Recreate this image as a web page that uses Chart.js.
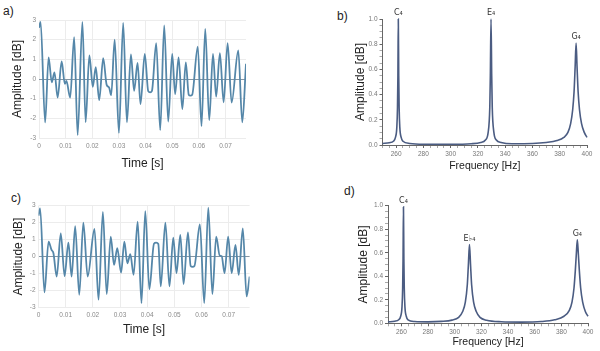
<!DOCTYPE html>
<html>
<head>
<meta charset="utf-8">
<script src="https://cdn.jsdelivr.net/npm/chart.js@4.4.0/dist/chart.umd.min.js"></script>
<style>
  html, body { margin: 0; padding: 0; background: #fff; }
  body { width: 600px; height: 351px; position: relative; overflow: hidden; font-family: "Liberation Sans", Arial, sans-serif; }
  canvas { position: absolute; }
  .tag { position: absolute; font-size: 12px; color: #222; line-height: 14px; }
</style>
</head>
<body>
<div class="tag" style="left:3px;top:4px">a)</div>
<div class="tag" style="left:337px;top:9px">b)</div>
<div class="tag" style="left:11px;top:191px">c)</div>
<div class="tag" style="left:344px;top:184px">d)</div>
<canvas id="chartA" width="260" height="175" style="left:0;top:0"></canvas>
<canvas id="chartB" width="300" height="175" style="left:300px;top:0"></canvas>
<canvas id="chartC" width="260" height="176" style="left:0;top:175px"></canvas>
<canvas id="chartD" width="300" height="176" style="left:300px;top:175px"></canvas>
<script>
// tick labels
const timeTicks = [0, 0.01, 0.02, 0.03, 0.04, 0.05, 0.06, 0.07];
const ampTicks = [-3, -2, -1, 0, 1, 2, 3];
const freqTicks = [260, 280, 300, 320, 340, 360, 380, 400];
const specTicks = [0, 0.2, 0.4, 0.6, 0.8, 1.0];

// a) C major chord, time domain (extrema read off the plot)
const timeA = [0, 0.0006, 0.0023, 0.0036, 0.0048, 0.0058, 0.0070, 0.0085, 0.0097, 0.0103,
  0.0117, 0.0132, 0.0145, 0.0163, 0.0175, 0.0189, 0.0202, 0.0213, 0.0226, 0.0241,
  0.0254, 0.0263, 0.0271, 0.0284, 0.0300, 0.0316, 0.0330, 0.0345, 0.0357, 0.0370,
  0.0381, 0.0397, 0.0410, 0.0417, 0.0424, 0.0440, 0.0455, 0.0470, 0.0485, 0.0500,
  0.0511, 0.0524, 0.0538, 0.0551, 0.0562, 0.0568, 0.0575, 0.0596, 0.0610, 0.0624,
  0.0639, 0.0653, 0.0665, 0.0679, 0.0693, 0.0708, 0.0723, 0.0748, 0.0763, 0.0777];
const ampA = [2.6, 2.9, -2.21, 1.1, -0.17, 0.34, -0.94, 0.89, -0.25, -0.1,
  -0.95, 2.13, -2.85, 2.9, -2.2, 1.2, -0.4, 0.6, -1.07, 1.06,
  -0.3, -0.43, -0.82, 2.0, -2.74, 2.85, -2.2, 1.25, -0.6, 0.82,
  -1.28, 1.28, -0.62, -0.68, -0.6, 1.82, -2.6, 2.72, -2.16, 1.28,
  -0.77, 1.1, -1.53, 0.85, -0.8, -0.85, -0.8, 1.65, -2.4, 2.55,
  -2.1, 1.28, -0.9, 1.31, -1.19, 1.82, -1.2, 1.45, -2.2, 0.77];

// c) C minor chord, time domain
const timeC = [0, 0.0006, 0.0022, 0.0037, 0.0048, 0.0055, 0.0067, 0.0082, 0.0096, 0.0110,
  0.0122, 0.0135, 0.0150, 0.0165, 0.0181, 0.0206, 0.0221, 0.0237, 0.0251, 0.0266,
  0.0278, 0.0290, 0.0304, 0.0316, 0.0327, 0.0338, 0.0350, 0.0365, 0.0379, 0.0393,
  0.0408, 0.0425, 0.0433, 0.0441, 0.0450, 0.0467, 0.0482, 0.0496, 0.0508, 0.0522,
  0.0534, 0.0550, 0.0560, 0.0567, 0.0574, 0.0594, 0.0610, 0.0625, 0.0640, 0.0654,
  0.0667, 0.0674, 0.0685, 0.0698, 0.0711, 0.0725, 0.0737, 0.0752, 0.0766, 0.0777];
const ampC = [2.4, 2.83, -2.1, 0.88, 0.39, 0.2, -1.17, 1.36, -1.15, 0.82,
  -1.17, 1.79, -2.24, 1.99, -1.17, 1.62, -2.53, 2.63, -2.2, 1.17,
  -0.49, 0.49, -0.94, 0.88, -0.39, 0.14, -1.07, 2.05, -2.73, 2.67,
  -1.91, 0.76, 0.82, 0.74, -1.75, 2.0, -1.75, 1.11, -0.97, 1.27,
  -1.62, 1.42, -0.55, -0.6, -0.55, 1.89, -2.73, 2.87, -2.2, 1.17,
  0.06, 0.03, -0.97, 1.17, -0.97, 0.68, -1.07, 1.66, -2.34, -1.17];

// b) spectrum of the major chord
const freqB = [250, 255, 258, 259.5, 260.5, 261, 261.3, 261.6, 261.9, 262.2,
  262.7, 263.7, 265, 270, 280, 300, 315, 322, 325.5, 327.5,
  328.7, 329.1, 329.6, 330.1, 330.5, 331.7, 333.5, 337, 345, 360,
  370, 378, 383, 386, 388, 389.5, 390.5, 391.3, 392, 392.7,
  393.5, 394.5, 396, 398, 400];
const specB = [0.012, 0.018, 0.03, 0.06, 0.14, 0.3, 0.55, 1.0, 0.55, 0.3,
  0.14, 0.06, 0.03, 0.012, 0.006, 0.006, 0.01, 0.02, 0.04, 0.1,
  0.3, 0.55, 1.0, 0.55, 0.3, 0.1, 0.04, 0.02, 0.01, 0.012,
  0.02, 0.035, 0.06, 0.1, 0.17, 0.28, 0.42, 0.62, 0.81, 0.62,
  0.42, 0.28, 0.17, 0.1, 0.06];
const notesB = ['C₄', 'E₄', 'G₄'];
const noteFreqB = [261.6, 329.6, 392];
const noteAmpB = [1.0, 1.0, 0.81];

// d) spectrum of the minor chord
const freqD = [250, 255, 258, 259.5, 260.5, 261, 261.3, 261.6, 261.9, 262.2,
  262.7, 263.7, 265, 270, 280, 290, 298, 303, 306, 308,
  309.5, 310.3, 311.1, 311.9, 312.7, 314.2, 316.2, 319, 324, 335,
  350, 365, 375, 382, 386, 388, 389.5, 390.5, 391.3, 392,
  392.7, 393.5, 394.5, 396, 398, 400];
const specD = [0.012, 0.018, 0.03, 0.06, 0.14, 0.3, 0.55, 0.99, 0.55, 0.3,
  0.14, 0.06, 0.03, 0.015, 0.012, 0.016, 0.027, 0.05, 0.1, 0.18,
  0.33, 0.5, 0.67, 0.5, 0.33, 0.18, 0.1, 0.05, 0.026, 0.013,
  0.01, 0.015, 0.03, 0.06, 0.11, 0.18, 0.3, 0.45, 0.6, 0.71,
  0.6, 0.45, 0.3, 0.18, 0.1, 0.06];
const notesD = ['C₄', 'E♭₄', 'G₄'];
const noteFreqD = [261.6, 311.1, 392];
const noteAmpD = [0.99, 0.67, 0.71];

Chart.defaults.font.family = '"Liberation Sans", Arial, sans-serif';
Chart.defaults.color = '#222';

const waveColor = '#5587a9';
const specColor = '#4b5c82';

// small ruler ticks on the spectrum axes
const freqMinor = [];
for (let f = 250; f <= 400; f += 5) freqMinor.push(f);
const specMinor = [];
for (let v = 0; v <= 20; v++) specMinor.push(v / 20);

function points(xs, ys) {
    return xs.map((x, i) => ({ x: x, y: ys[i] }));
}

// labels for the note peaks
const noteLabels = {
    id: 'noteLabels',
    afterDatasetsDraw(chart, args, opts) {
        if (!opts.names) return;
        const { ctx, scales: { x, y } } = chart;
        ctx.save();
        ctx.font = '8px "DejaVu Sans", sans-serif';
        ctx.fillStyle = '#333';
        ctx.textAlign = 'center';
        ctx.textBaseline = 'bottom';
        opts.names.forEach((n, i) => {
            ctx.fillText(n, x.getPixelForValue(opts.freqs[i]), y.getPixelForValue(opts.amps[i]) - 2);
        });
        ctx.restore();
    }
};

function waveConfig(times, amps, box) {
    return {
        type: 'line',
        data: {
            datasets: [{
                data: points(times, amps),
                borderColor: waveColor,
                borderWidth: 1.8,
                pointRadius: 0,
                cubicInterpolationMode: 'monotone',
                fill: false
            }]
        },
        options: {
            responsive: false,
            animation: false,
            layout: { padding: { left: 0, right: box.right, top: box.top, bottom: 0 } },
            plugins: { legend: { display: false }, tooltip: { enabled: false } },
            scales: {
                x: {
                    type: 'linear',
                    min: 0,
                    max: 0.0777,
                    afterBuildTicks: s => { s.ticks = timeTicks.map(v => ({ value: v })); },
                    afterFit: s => { s.height = box.xHeight; },
                    grid: { color: '#ececec', drawTicks: false },
                    border: { display: false },
                    ticks: { autoSkip: false, maxRotation: 0, padding: 4, color: '#8a8a8a', font: { size: 6.5 }, callback: v => String(v) },
                    title: { display: true, text: 'Time [s]', font: { size: 12 }, padding: { top: 0, bottom: box.xTitlePad } }
                },
                y: {
                    min: -3,
                    max: 3,
                    afterBuildTicks: s => { s.ticks = ampTicks.map(v => ({ value: v })); },
                    afterFit: s => { s.width = box.yWidth; },
                    grid: { color: c => (c.tick && c.tick.value === 0) ? '#8696a3' : '#ececec', drawTicks: false },
                    border: { display: false },
                    ticks: { padding: 3, color: '#8a8a8a', font: { size: 6.5 }, callback: v => String(v) },
                    title: { display: true, text: 'Amplitude [dB]', font: { size: 12 }, padding: { top: box.yTitlePad, bottom: 0 } }
                }
            }
        }
    };
}

function specConfig(freqs, amps, box, notes) {
    return {
        type: 'line',
        data: {
            datasets: [{
                data: points(freqs, amps),
                borderColor: specColor,
                borderWidth: 1.6,
                pointRadius: 0,
                cubicInterpolationMode: 'monotone',
                fill: false,
                clip: false
            }]
        },
        options: {
            responsive: false,
            animation: false,
            layout: { padding: { left: box.left, right: box.right, top: box.top, bottom: 0 } },
            plugins: { legend: { display: false }, tooltip: { enabled: false }, noteLabels: notes },
            scales: {
                x: {
                    type: 'linear',
                    min: 250,
                    max: 400,
                    afterBuildTicks: s => { s.ticks = freqMinor.map(v => ({ value: v })); },
                    afterFit: s => { s.height = box.xHeight; },
                    grid: { drawOnChartArea: false, tickLength: 3, tickColor: c => freqTicks.includes(c.tick.value) ? '#666' : '#aaa' },
                    border: { display: true, color: '#666', width: 1 },
                    ticks: { autoSkip: false, maxRotation: 0, padding: 2, color: '#777', font: { size: 6.5 }, callback: v => freqTicks.includes(v) ? String(v) : '' },
                    title: { display: true, text: 'Frequency [Hz]', font: { size: 10.5 }, padding: { top: 0, bottom: box.xTitlePad } }
                },
                y: {
                    min: 0,
                    max: 1,
                    afterBuildTicks: s => { s.ticks = specMinor.map(v => ({ value: v })); },
                    afterFit: s => { s.width = box.yWidth; },
                    grid: { drawOnChartArea: false, tickLength: 3, tickColor: c => specTicks.some(t => Math.abs(t - c.tick.value) < 1e-6) ? '#666' : '#aaa' },
                    border: { display: true, color: '#666', width: 1 },
                    ticks: {
                        autoSkip: false, padding: 2, color: '#777', font: { size: 6.5 },
                        callback: v => specTicks.some(t => Math.abs(t - v) < 1e-6) ? v.toFixed(1) : ''
                    },
                    title: { display: true, text: 'Amplitude [dB]', font: { size: 12 }, padding: { top: box.yTitlePad, bottom: 0 } }
                }
            }
        },
        plugins: [noteLabels]
    };
}

new Chart(document.getElementById('chartA'),
    waveConfig(timeA, ampA, { right: 14, top: 20, xHeight: 37, yWidth: 39, xTitlePad: 4, yTitlePad: 10 }));
new Chart(document.getElementById('chartC'),
    waveConfig(timeC, ampC, { right: 10.4, top: 30.5, xHeight: 43.3, yWidth: 38.5, xTitlePad: 14, yTitlePad: 11 }));
new Chart(document.getElementById('chartB'),
    specConfig(freqB, specB, { left: 50, right: 13, top: 19, xHeight: 30, yWidth: 32.5, xTitlePad: 3, yTitlePad: 3 },
        { names: notesB, freqs: noteFreqB, amps: noteAmpB }));
new Chart(document.getElementById('chartD'),
    specConfig(freqD, specD, { left: 53, right: 12, top: 30.7, xHeight: 27.7, yWidth: 35, xTitlePad: 3, yTitlePad: 3 },
        { names: notesD, freqs: noteFreqD, amps: noteAmpD }));
</script>
</body>
</html>
